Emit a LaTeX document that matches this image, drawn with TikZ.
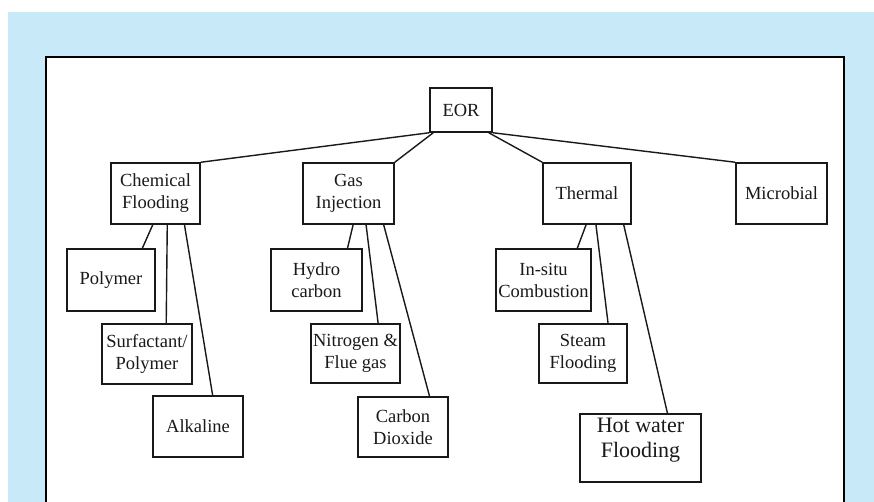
\documentclass[tikz,border=0pt]{standalone}
\usepackage{fontspec}
\setmainfont{Liberation Serif}
\usetikzlibrary{calc}
\definecolor{bgblue}{RGB}{200,233,248}
\definecolor{ink}{RGB}{25,25,25}
\tikzset{
  box/.style={draw=ink, line width=1.5pt, fill=white, inner sep=0pt, align=center,
    font=\fontsize{18.5}{22}\selectfont, text=ink},
  link/.style={draw=ink, line width=1.4pt},
}
\begin{document}
\begin{tikzpicture}[x=1pt,y=-1pt]
\useasboundingbox (0,0) rectangle (874,502);
\fill[white] (0,0) rectangle (874,502);
\fill[bgblue] (8,12) rectangle (874,502);
\fill[white] (46,57) rectangle (844,502);
\draw[black, line width=1.6pt] (46,502) -- (46,57) -- (844,57) -- (844,502);

% level 0
\node[box, minimum width=62pt, minimum height=44pt] (eor) at (461,110) {EOR};
% level 1
\node[box, minimum width=89pt, minimum height=61pt] (chem) at (155.5,193.5) {Chemical\\Flooding};
\node[box, minimum width=91pt, minimum height=61pt] (gas) at (348.5,193.5) {Gas\\Injection};
\node[box, minimum width=88pt, minimum height=61pt] (therm) at (587,193.5) {Thermal};
\node[box, minimum width=91pt, minimum height=61pt] (micro) at (781.5,193.5) {Microbial};
% chemical children
\node[box, minimum width=88pt, minimum height=62pt] (poly) at (111,280) {Polymer};
\node[box, minimum width=90pt, minimum height=60pt] (surf) at (147,354) {Surfactant/\\Polymer};
\node[box, minimum width=90pt, minimum height=61pt] (alk) at (198,426.5) {Alkaline};
% gas children
\node[box, minimum width=91pt, minimum height=62pt] (hydro) at (316.5,280) {Hydro\\carbon};
\node[box, minimum width=89pt, minimum height=59pt] (nitro) at (355.5,353.5) {Nitrogen \&\\Flue gas};
\node[box, minimum width=90pt, minimum height=60pt] (co2) at (403,427) {Carbon\\Dioxide};
% thermal children
\node[box, minimum width=95pt, minimum height=62pt] (insitu) at (543.5,280) {In-situ\\Combustion};
\node[box, minimum width=88pt, minimum height=59pt] (steam) at (583,353.5) {Steam\\Flooding};
\node[box, minimum width=121pt, minimum height=68pt] (hot) at (640.5,448) {};
\node[anchor=north, inner sep=0pt, align=center, text=ink,
  font=\fontsize{22}{25}\selectfont] (hottext) at ([yshift=-5pt]hot.north) {Hot water\\Flooding};

% EOR links
\draw[link] (eor.south west) -- (chem.north east);
\draw[link] ([xshift=4pt]eor.south west) -- (gas.north east);
\draw[link] ([xshift=-4pt]eor.south east) -- (therm.north west);
\draw[link] (eor.south east) -- (micro.north west);

% chemical links
\draw[link] ($(chem.south west)!0.47!(chem.south east)$) -- ($(poly.north west)!0.85!(poly.north east)$);
\draw[link] ($(chem.south west)!0.63!(chem.south east)$) -- ($(surf.north west)!0.71!(surf.north east)$);
\draw[link] ($(chem.south west)!0.82!(chem.south east)$) -- ($(alk.north west)!0.66!(alk.north east)$);
% gas links
\draw[link] ($(gas.south west)!0.55!(gas.south east)$) -- ($(hydro.north west)!0.835!(hydro.north east)$);
\draw[link] ($(gas.south west)!0.69!(gas.south east)$) -- ($(nitro.north west)!0.75!(nitro.north east)$);
\draw[link] ($(gas.south west)!0.88!(gas.south east)$) -- ($(co2.north west)!0.79!(co2.north east)$);
% thermal links
\draw[link] ($(therm.south west)!0.49!(therm.south east)$) -- ($(insitu.north west)!0.85!(insitu.north east)$);
\draw[link] ($(therm.south west)!0.60!(therm.south east)$) -- ($(steam.north west)!0.78!(steam.north east)$);
\draw[link] ($(therm.south west)!0.91!(therm.south east)$) -- ($(hot.north west)!0.72!(hot.north east)$);
\end{tikzpicture}
\end{document}
